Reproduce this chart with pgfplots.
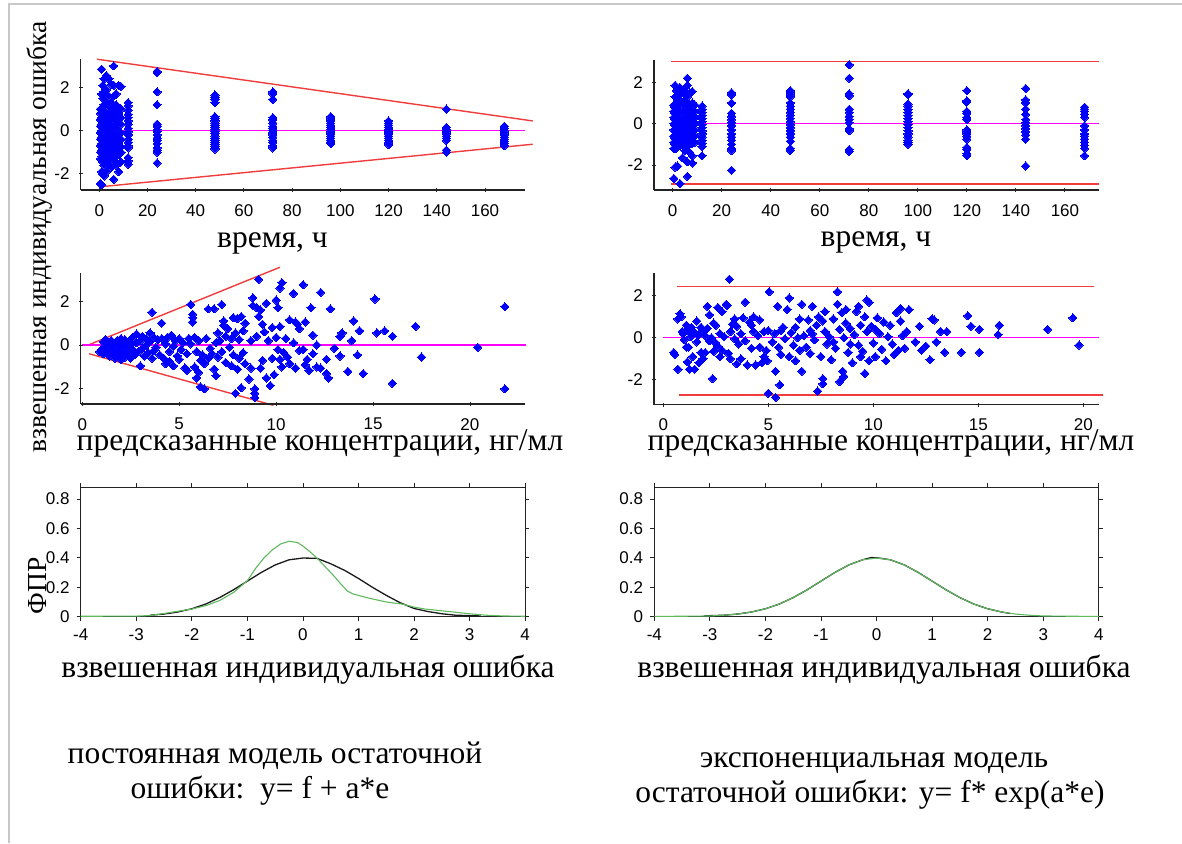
\documentclass[border=0pt]{standalone}
\usepackage{pgfplots}
\pgfplotsset{compat=1.18}
\usepackage{fontspec}
\setmainfont{Liberation Serif}
\newfontfamily\ticksans{Liberation Sans}

\definecolor{ptblue}{RGB}{0,0,255}
\definecolor{limred}{RGB}{240,60,60}
\definecolor{zeromag}{RGB}{255,0,255}
\definecolor{pdfgreen}{RGB}{95,185,95}
\definecolor{pdfblack}{RGB}{25,25,25}
\definecolor{framegray}{RGB}{200,200,200}
\definecolor{axisdark}{RGB}{35,35,35}

\newcommand{\labfont}{\fontsize{31.5}{34}\selectfont}
\newcommand{\rotfont}{\fontsize{27.5}{30}\selectfont}

\pgfplotsset{
  common/.style={
    scale only axis,
    tick align=outside,
    major tick length=4pt,
    tick style={draw=axisdark, line width=0.9pt},
    tick label style={font=\ticksans\fontsize{17}{17}\selectfont, inner sep=1pt},
    xticklabel style={yshift=-7pt},
    yticklabel style={xshift=-6pt},
    /pgf/number format/assume math mode=true,
  },
  resid/.style={
    common,
    axis x line=bottom, axis y line=left,
    axis line style={-, draw=axisdark, line width=1.3pt},
    xticklabel style={yshift=-4pt},
    yticklabel style={xshift=-2pt},
    ytick={-2,0,2},
    clip=false,
  },
  % reference lines live in a bare axis of identical geometry
  guide/.style={scale only axis, hide axis, clip=false},
  geomA/.style={at={(80.7pt,653pt)}, anchor=south west,
    width=444.3pt, height=131pt, xmin=-7.7, xmax=176.6, ymin=-2.75, ymax=3.32},
  geomB/.style={at={(654pt,653pt)}, anchor=south west,
    width=445pt, height=130pt, xmin=-7.6, xmax=173.9, ymin=-3.21, ymax=3.08},
  geomC/.style={at={(80.7pt,439pt)}, anchor=south west,
    width=444.3pt, height=131.3pt, xmin=-0.08, xmax=22.84, ymin=-2.69, ymax=3.30},
  geomD/.style={at={(654pt,438.3pt)}, anchor=south west,
    width=445pt, height=131.4pt, xmin=-0.44, xmax=20.75, ymin=-3.2, ymax=3.08},
  timeax/.style={resid, xtick={0,20,...,160}},
  concax/.style={resid, xtick={0,5,10,15,20}},
  pdfax/.style={
    common,
    xmin=-4, xmax=4, ymin=0, ymax=0.88,
    xtick={-4,-3,-2,-1,0,1,2,3,4},
    ytick={0,0.2,0.4,0.6,0.8},
    tick pos=both,
    axis line style={draw=axisdark, line width=1.3pt},
    width=444.5pt, height=129.4pt,
  },
  pts/.style={only marks, mark=square*, mark size=2.9pt,
    mark options={rotate=45, fill=ptblue, draw=ptblue, line width=0pt}},
  zeroline/.style={draw=zeromag, line width=1.5pt, mark=none},
  limline/.style={draw=limred, line width=1.4pt, mark=none},
}

\begin{document}
\begin{tikzpicture}
\path[use as bounding box] (0,0) rectangle (1182pt,843pt);
\draw[draw=framegray, line width=2.5pt] (9pt,0pt) -- (9pt,839pt) -- (1182pt,839pt);

% ---------- residuals vs time, additive error ----------
\begin{axis}[guide, geomA]
\addplot[limline] coordinates {(-1,3.31) (179.8,0.45)};
\addplot[limline] coordinates {(1.5,-2.59) (179.8,-0.63)};
\addplot[zeroline] coordinates {(0,0) (88,0) (176.8,0)};
\end{axis}
\begin{axis}[timeax, geomA]
\addplot[pts] coordinates {
(0.5,1.0)(0.5,0.8)(0.5,0.5)(0.5,0.2)(0.5,-0.1)(0.5,-0.4)(0.5,-0.7)(0.5,-1.0)(0.5,-1.3)(0.5,-2.45)
(1,2.85)(1,1.7)(1,1.0)(1,0.6)(1,0.3)(1,0.0)(1,-0.3)(1,-0.6)(1,-0.9)(1,-1.2)(1,-1.9)(1,-2.5)
(1.5,2.1)(1.5,1.5)(1.5,0.9)(1.5,0.4)(1.5,0.1)(1.5,-0.2)(1.5,-0.5)(1.5,-0.8)(1.5,-1.1)(1.5,-1.45)(1.5,-2.0)
(2,2.4)(2,1.8)(2,1.2)(2,0.7)(2,0.2)(2,-0.1)(2,-0.4)(2,-0.7)(2,-1.0)(2,-1.6)(2,-2.1)
(3,2.55)(3,1.9)(3,1.3)(3,0.8)(3,0.45)(3,0.15)(3,-0.15)(3,-0.45)(3,-0.75)(3,-1.05)(3,-1.4)(3,-1.9)
(4,2.4)(4,1.6)(4,1.1)(4,0.6)(4,0.25)(4,-0.05)(4,-0.35)(4,-0.65)(4,-0.95)(4,-1.25)(4,-1.55)
(5,2.15)(5,1.3)(5,0.9)(5,0.5)(5,0.1)(5,-0.2)(5,-0.5)(5,-0.8)(5,-1.1)(5,-1.7)
(6,3.0)(6,2.1)(6,1.6)(6,1.0)(6,0.6)(6,0.2)(6,-0.1)(6,-0.4)(6,-0.7)(6,-1.0)(6,-1.4)(6,-2.25)
(7,1.7)(7,1.2)(7,0.7)(7,0.3)(7,-0.05)(7,-0.3)(7,-0.6)(7,-0.9)(7,-1.2)(7,-1.6)
(8,2.1)(8,1.0)(8,0.8)(8,0.4)(8,0.0)(8,-0.3)(8,-0.55)(8,-0.85)(8,-1.1)(8,-1.9)
(9,2.05)(9,1.0)(9,0.6)(9,0.3)(9,-0.1)(9,-0.4)(9,-0.75)(9,-1.0)(9,-1.45)
(12,1.3)(12,1.15)(12,0.95)(12,0.75)(12,0.6)(12,0.45)(12,0.3)(12,0.1)(12,-0.05)(12,-0.2)(12,-0.4)(12,-0.55)(12,-0.7)(12,-0.8)(12,-1.25)(12,-1.4)(12,-1.55)
(24,2.75)(24,2.7)(24,1.8)(24,1.2)(24,0.3)(24,0.2)(24,0.05)(24,-0.05)(24,-0.2)(24,-0.35)(24,-0.45)(24,-0.6)(24,-0.8)(24,-0.9)(24,-1.0)(24,-1.5)
(48,1.65)(48,1.55)(48,1.45)(48,1.3)(48,0.65)(48,0.55)(48,0.45)(48,0.35)(48,0.25)(48,0.15)(48,0.05)(48,-0.05)(48,-0.15)(48,-0.25)(48,-0.35)(48,-0.45)(48,-0.55)(48,-0.65)(48,-0.75)(48,-0.85)
(72,1.8)(72,1.7)(72,1.45)(72,0.6)(72,0.5)(72,0.35)(72,0.2)(72,0.1)(72,0.0)(72,-0.1)(72,-0.2)(72,-0.3)(72,-0.45)(72,-0.55)(72,-0.7)(72,-0.8)
(96,0.65)(96,0.55)(96,0.45)(96,0.35)(96,0.25)(96,0.15)(96,0.05)(96,-0.05)(96,-0.15)(96,-0.25)(96,-0.35)(96,-0.45)(96,-0.55)(96,-0.6)
(120,0.45)(120,0.35)(120,0.25)(120,0.15)(120,0.05)(120,-0.05)(120,-0.15)(120,-0.25)(120,-0.35)(120,-0.45)(120,-0.55)(120,-0.65)
(144,1.0)(144,0.15)(144,0.05)(144,-0.05)(144,-0.15)(144,-0.25)(144,-0.35)(144,-0.45)(144,-0.9)(144,-1.0)
(168,0.2)(168,0.1)(168,0.0)(168,-0.1)(168,-0.2)(168,-0.3)(168,-0.4)(168,-0.5)(168,-0.6)(168,-0.7)
};
\end{axis}

% ---------- residuals vs time, exponential error ----------
\begin{axis}[guide, geomB]
\addplot[zeroline] coordinates {(-0.8,0) (87,0) (174,0)};
\addplot[limline] coordinates {(-0.8,3.0) (87,3.0) (174,3.0)};
\addplot[limline] coordinates {(-0.8,-2.92) (87,-2.92) (174,-2.92)};
\end{axis}
\begin{axis}[timeax, geomB]
\addplot[pts] coordinates {
(0.5,0.9)(0.5,0.6)(0.5,0.3)(0.5,0.0)(0.5,-0.3)(0.5,-0.6)(0.5,-0.9)(0.5,-1.2)(0.5,-2.65)
(1,1.85)(1,1.3)(1,0.8)(1,0.5)(1,0.2)(1,-0.1)(1,-0.4)(1,-0.7)(1,-1.0)(1,-2.1)
(1.5,1.6)(1.5,1.0)(1.5,0.6)(1.5,0.25)(1.5,-0.05)(1.5,-0.35)(1.5,-0.65)(1.5,-0.95)(1.5,-1.2)
(2,1.7)(2,1.2)(2,0.7)(2,0.35)(2,0.05)(2,-0.25)(2,-0.55)(2,-0.85)(2,-2.05)
(3,1.75)(3,1.4)(3,0.9)(3,0.5)(3,0.15)(3,-0.15)(3,-0.45)(3,-0.75)(3,-1.05)(3,-2.9)
(4,1.5)(4,1.0)(4,0.6)(4,0.2)(4,-0.1)(4,-0.4)(4,-0.7)(4,-1.0)(4,-1.65)
(5,1.6)(5,1.1)(5,0.7)(5,0.3)(5,0.0)(5,-0.3)(5,-0.6)(5,-0.9)(5,-1.3)
(6,2.2)(6,1.85)(6,1.3)(6,0.8)(6,0.4)(6,0.1)(6,-0.2)(6,-0.5)(6,-0.8)(6,-1.1)(6,-1.85)(6,-2.55)
(7,1.5)(7,0.9)(7,0.5)(7,0.15)(7,-0.15)(7,-0.45)(7,-0.75)(7,-1.4)
(8,1.55)(8,1.0)(8,0.6)(8,0.25)(8,-0.05)(8,-0.35)(8,-0.65)(8,-0.95)(8,-1.55)(8,-1.9)
(9,0.9)(9,0.6)(9,0.3)(9,0.0)(9,-0.3)(9,-0.6)(9,-0.9)
(12,0.85)(12,0.7)(12,0.55)(12,0.4)(12,0.25)(12,0.1)(12,-0.05)(12,-0.2)(12,-0.35)(12,-0.5)(12,-0.65)(12,-0.8)(12,-0.95)(12,-1.1)(12,-1.55)
(24,1.5)(24,1.4)(24,1.0)(24,0.5)(24,0.35)(24,0.2)(24,0.05)(24,-0.1)(24,-0.3)(24,-0.5)(24,-0.65)(24,-0.8)(24,-1.0)(24,-1.2)(24,-1.3)(24,-2.25)
(48,1.6)(48,1.5)(48,1.4)(48,1.3)(48,1.0)(48,0.85)(48,0.7)(48,0.55)(48,0.4)(48,0.25)(48,0.1)(48,-0.05)(48,-0.2)(48,-0.35)(48,-0.5)(48,-0.65)(48,-0.85)(48,-1.2)(48,-1.3)
(72,2.85)(72,2.2)(72,1.45)(72,1.35)(72,0.7)(72,0.55)(72,0.35)(72,0.2)(72,0.05)(72,-0.25)(72,-0.35)(72,-1.25)(72,-1.35)
(96,1.45)(96,1.4)(96,0.95)(96,0.85)(96,0.7)(96,0.55)(96,0.4)(96,0.25)(96,0.1)(96,-0.05)(96,-0.2)(96,-0.35)(96,-0.5)(96,-0.65)(96,-0.8)(96,-0.9)(96,-1.0)
(120,1.6)(120,1.1)(120,1.05)(120,0.6)(120,0.5)(120,0.3)(120,0.2)(120,-0.3)(120,-0.4)(120,-0.5)(120,-0.6)(120,-0.75)(120,-1.15)(120,-1.25)(120,-1.45)(120,-1.55)
(144,1.7)(144,1.15)(144,1.0)(144,0.7)(144,0.45)(144,0.2)(144,0.05)(144,-0.1)(144,-0.25)(144,-0.4)(144,-0.55)(144,-0.75)(144,-2.05)
(168,0.8)(168,0.7)(168,0.6)(168,0.45)(168,0.3)(168,-0.1)(168,-0.3)(168,-0.5)(168,-0.6)(168,-0.75)(168,-0.9)(168,-1.05)(168,-1.2)(168,-1.55)
};
\end{axis}

% ---------- residuals vs predicted concentration, additive error ----------
\begin{axis}[guide, geomC]
\addplot[limline] coordinates {(0.31,0) (10.2,3.55)};
\addplot[limline] coordinates {(0.36,-0.40) (9.86,-2.75)};
\addplot[zeroline] coordinates {(-0.03,0) (11.4,0) (22.87,0)};
\end{axis}
\begin{axis}[concax, geomC]
\addplot[pts] coordinates {
(0.9,-0.3)(1.0,-0.2)(1.1,0.15)(1.1,-0.4)(1.2,0.25)(1.2,-0.1)(1.3,-0.3)(1.3,0.05)(1.4,-0.5)(1.4,0.1)
(1.5,-0.2)(1.5,0.2)(1.6,-0.35)(1.6,-0.05)(1.7,0.1)(1.7,-0.6)(1.8,-0.25)(1.8,0.2)(1.9,-0.45)(1.9,0.0)
(2.0,-0.15)(2.0,0.3)(2.0,-0.65)(2.1,0.1)(2.1,-0.35)(2.2,-0.55)(2.2,0.25)(2.3,-0.1)(2.3,-0.45)(2.4,0.15)
(2.4,-0.3)(2.5,-0.6)(2.5,0.05)(2.6,-0.2)(2.6,0.35)(2.7,-0.45)(2.8,0.5)(2.8,0.1)(2.9,-0.3)(3.0,0.2)
(3.0,-0.95)(3.1,0.4)(3.1,-0.15)(3.2,-0.5)(3.3,0.3)(3.3,0.0)(3.4,-0.35)(3.5,0.55)(3.5,0.15)(3.6,1.5)
(3.6,-0.6)(3.7,0.35)(3.7,-0.25)(3.8,-0.1)(3.9,0.25)(4.0,-0.45)(4.1,1.0)(4.1,0.3)(4.2,-0.6)(4.3,-0.85)
(4.3,0.05)(4.4,0.35)(4.5,-0.3)(4.5,-0.75)(4.6,0.45)(4.7,-0.05)(4.7,-0.95)(4.8,0.2)(4.9,-0.5)(5.0,-0.65)
(5.0,0.3)(5.1,-0.2)(5.2,0.1)(5.3,-1.05)(5.4,-1.15)(5.4,-0.4)(5.5,0.3)(5.6,1.85)(5.6,0.05)(5.7,1.4)
(5.7,1.25)(5.7,1.05)(5.8,-1.0)(5.8,0.35)(5.9,-1.5)(5.9,-0.3)(6.0,-1.25)(6.0,0.2)(6.1,-1.9)(6.1,-0.7)
(6.2,-0.45)(6.3,-0.85)(6.3,-2.0)(6.4,0.3)(6.5,-0.6)(6.5,1.65)(6.6,-0.15)(6.7,-0.4)(6.8,1.65)(6.8,-1.1)
(6.9,0.1)(6.9,-1.4)(7.0,0.55)(7.0,-0.55)(7.1,0.2)(7.2,1.85)(7.2,-0.3)(7.3,1.1)(7.3,0.9)(7.4,0.4)
(7.4,-0.8)(7.5,0.75)(7.6,-0.1)(7.7,0.3)(7.7,-0.95)(7.8,1.25)(7.8,-0.45)(7.9,0.55)(7.9,-2.2)(8.0,1.2)
(8.0,-1.1)(8.1,0.25)(8.1,-0.6)(8.2,1.3)(8.2,-1.95)(8.3,0.65)(8.3,-0.35)(8.4,1.0)(8.4,-0.85)(8.6,-1.55)
(8.7,-1.05)(8.7,0.2)(8.8,2.15)(8.8,1.8)(8.9,-2.0)(8.9,-2.2)(8.9,-2.4)(9.0,1.7)(9.0,0.4)(9.1,3.0)
(9.1,1.3)(9.2,1.6)(9.2,-1.05)(9.3,0.95)(9.3,-0.7)(9.4,0.6)(9.5,1.9)(9.5,-1.5)(9.6,0.2)(9.7,-1.85)
(9.8,0.8)(9.8,-0.6)(9.9,-1.35)(10.0,2.05)(10.0,0.35)(10.1,1.7)(10.1,-0.2)(10.2,2.6)(10.2,0.85)(10.2,-0.65)
(10.3,2.85)(10.3,-1.0)(10.4,-0.35)(10.5,0.3)(10.6,-0.55)(10.7,1.15)(10.7,-0.85)(10.9,2.35)(10.9,0.1)(11.0,1.05)
(11.0,-1.05)(11.1,0.95)(11.2,0.75)(11.2,-0.25)(11.4,2.75)(11.4,-0.2)(11.5,1.05)(11.5,-0.9)(11.6,-0.65)(11.7,-1.15)
(11.8,1.7)(11.9,0.45)(11.9,-0.4)(12.1,0.0)(12.1,-1.0)(12.3,2.4)(12.3,-1.05)(12.6,-0.65)(12.6,-1.3)(12.7,-1.5)
(12.8,1.65)(13.0,-0.15)(13.3,0.4)(13.3,-0.5)(13.4,0.55)(13.7,-1.2)(13.9,0.2)(14.0,1.1)(14.2,-0.45)(14.3,0.65)
(14.5,-1.3)(15.1,2.1)(15.2,0.55)(15.6,0.65)(16.0,0.4)(16.0,-1.75)(17.2,0.85)(17.5,-0.55)(20.4,-0.1)(21.8,1.75)
(21.8,-2.0)
};
\end{axis}

% ---------- residuals vs predicted concentration, exponential error ----------
\begin{axis}[guide, geomD]
\addplot[zeroline] coordinates {(0.01,0) (10.4,0) (20.74,0)};
\addplot[limline] coordinates {(0.67,2.44) (10.6,2.44) (20.5,2.44)};
\addplot[limline] coordinates {(0.76,-2.73) (10.9,-2.73) (20.95,-2.73)};
\end{axis}
\begin{axis}[concax, geomD]
\addplot[pts] coordinates {
(0.5,-0.7)(0.55,-0.8)(0.7,-1.5)(0.7,0.9)(0.8,1.15)(0.85,1.0)(0.9,0.3)(0.95,0.2)(1.0,0.25)(1.1,0.6)
(1.1,-0.45)(1.15,-1.15)(1.2,0.35)(1.2,-0.45)(1.25,-1.5)(1.3,0.05)(1.35,0.5)(1.4,-0.9)(1.5,0.25)(1.5,-1.5)
(1.6,0.8)(1.6,-0.2)(1.7,0.15)(1.7,-1.2)(1.8,-0.7)(1.9,0.35)(1.9,-1.0)(2.0,-0.7)(2.0,0.1)(2.1,1.5)
(2.1,0.45)(2.2,1.1)(2.2,-0.15)(2.3,0.0)(2.35,-1.95)(2.4,0.7)(2.4,-0.65)(2.5,0.6)(2.5,-0.25)(2.6,1.45)
(2.6,-0.4)(2.7,0.2)(2.8,-0.6)(2.8,1.25)(2.9,0.05)(3.0,1.6)(3.05,1.55)(3.1,-0.75)(3.15,2.8)(3.2,0.3)
(3.2,-1.0)(3.3,0.65)(3.4,-0.05)(3.5,-1.25)(3.5,0.55)(3.6,-0.3)(3.7,0.2)(3.7,-1.0)(3.8,0.95)(3.9,1.7)
(3.9,-0.15)(4.0,-1.3)(4.1,0.75)(4.2,-0.5)(4.3,0.3)(4.3,1.0)(4.4,-1.3)(4.5,0.1)(4.6,-0.45)(4.6,0.85)
(4.7,-1.2)(4.8,0.3)(4.9,-0.6)(4.95,-1.1)(5.0,0.35)(5.0,-2.65)(5.05,2.2)(5.2,-0.2)(5.35,-2.85)(5.35,-1.6)
(5.45,1.5)(5.5,-0.45)(5.55,-2.25)(5.6,0.35)(5.7,0.5)(5.8,-0.05)(5.9,1.35)(6.0,1.9)(6.0,-0.9)(6.1,0.25)
(6.2,-0.35)(6.3,-1.1)(6.4,0.0)(6.5,-0.6)(6.6,1.6)(6.6,-1.6)(6.7,0.1)(6.8,-0.45)(6.9,0.85)(7.0,-0.75)
(7.1,1.5)(7.1,0.2)(7.2,-0.1)(7.3,0.6)(7.35,-2.55)(7.4,1.0)(7.5,-0.9)(7.6,-1.95)(7.6,-2.2)(7.7,1.25)
(7.7,0.3)(7.8,-0.3)(7.9,0.05)(8.0,-1.05)(8.1,0.9)(8.2,-0.5)(8.3,2.2)(8.3,1.6)(8.4,-2.1)(8.4,0.4)
(8.5,1.2)(8.55,-1.6)(8.6,-1.85)(8.6,0.0)(8.7,1.35)(8.8,-0.7)(8.9,0.45)(9.0,-1.2)(9.1,0.15)(9.2,1.25)
(9.3,1.5)(9.3,-0.35)(9.4,0.6)(9.5,-0.65)(9.6,1.0)(9.6,-1.7)(9.7,1.8)(9.7,0.3)(9.8,1.7)(9.8,-1.1)
(9.9,0.55)(10.0,-0.25)(10.1,-0.9)(10.2,0.95)(10.3,0.2)(10.4,-0.55)(10.5,0.75)(10.6,-1.1)(10.7,0.05)(10.8,0.6)
(11.0,-0.8)(11.1,1.2)(11.2,-0.6)(11.3,1.4)(11.4,0.1)(11.5,-0.5)(11.6,0.3)(11.7,1.35)(12.2,0.55)(12.3,-0.6)
(12.5,-0.4)(12.7,-1.05)(12.8,0.9)(12.9,0.85)(13.0,-0.2)(13.2,0.3)(13.4,-0.7)(13.5,0.3)(14.2,-0.7)(14.5,1.05)
(14.65,0.55)(15.05,0.4)(15.05,-0.7)(15.95,0.15)(16.0,0.6)(18.3,0.4)(19.5,0.95)(19.8,-0.35)
(1.0,-0.1)(1.8,0.5)(2.7,-0.9)(3.4,0.9)(4.2,0.6)(4.8,-0.9)(5.6,-0.8)(6.3,0.5)(7.0,0.35)(7.6,0.8)
(8.1,-0.2)(8.9,-0.3)(9.4,-0.9)(10.1,0.4)(10.9,-0.3)(11.3,0.8)(12.0,-0.2)(6.5,0.9)(5.3,0.2)(8.7,0.7)
};
\end{axis}

% ---------- density of residuals, additive error ----------
\begin{axis}[pdfax, at={(80.7pt,226.3pt)}, anchor=south west]
\addplot[draw=pdfblack, line width=1.3pt, mark=none] coordinates {
(-2.75,0.01)(-2.5,0.018)(-2.25,0.032)(-2,0.054)(-1.75,0.086)(-1.5,0.13)(-1.25,0.183)(-1,0.242)
(-0.75,0.301)(-0.5,0.352)(-0.25,0.387)(0,0.399)(0.25,0.397)(0.5,0.36)(0.75,0.315)(1,0.26)
(1.25,0.2)(1.5,0.145)(1.75,0.095)(2,0.056)(2.25,0.035)(2.5,0.02)(2.75,0.01)(3.2,0.005)};
\addplot[draw=pdfgreen, line width=1.1pt, mark=none] coordinates {
(-4,0.003)(-3,0.004)(-2.75,0.008)(-2.5,0.022)(-2.25,0.037)(-2,0.052)(-1.75,0.075)(-1.5,0.11)
(-1.25,0.165)(-1.0,0.245)(-0.85,0.33)(-0.7,0.40)(-0.55,0.455)(-0.4,0.495)(-0.25,0.513)(-0.1,0.505)
(0.0,0.48)(0.1,0.45)(0.25,0.40)(0.4,0.34)(0.55,0.28)(0.7,0.215)(0.8,0.175)(0.9,0.155)(1.0,0.145)
(1.2,0.125)(1.5,0.10)(1.8,0.085)(2.0,0.065)(2.2,0.052)(2.5,0.04)(2.8,0.028)(3.0,0.02)
(3.3,0.01)(3.6,0.005)(4,0.003)};
\end{axis}

% ---------- density of residuals, exponential error ----------
\begin{axis}[pdfax, at={(654.3pt,226.3pt)}, anchor=south west]
\addplot[draw=pdfblack, line width=1.3pt, mark=none] coordinates {
(-3.1,0.006)(-2.75,0.01)(-2.5,0.018)(-2.25,0.032)(-2,0.054)(-1.75,0.086)(-1.5,0.13)(-1.25,0.183)
(-1,0.242)(-0.75,0.301)(-0.5,0.352)(-0.25,0.387)(-0.1,0.402)(0,0.401)(0.25,0.387)(0.5,0.352)
(0.75,0.301)(1,0.242)(1.25,0.183)(1.5,0.13)(1.75,0.086)(2,0.054)(2.25,0.032)(2.4,0.022)};
\addplot[draw=pdfgreen, line width=1.1pt, mark=none] coordinates {
(-4,0.002)(-3.5,0.003)(-3,0.005)(-2.75,0.01)(-2.5,0.018)(-2.25,0.032)(-2,0.054)(-1.75,0.086)
(-1.5,0.13)(-1.25,0.183)(-1,0.242)(-0.75,0.301)(-0.5,0.352)(-0.25,0.387)(0,0.399)(0.25,0.387)
(0.5,0.352)(0.75,0.301)(1,0.242)(1.25,0.183)(1.5,0.13)(1.75,0.086)(2,0.054)(2.25,0.032)
(2.5,0.018)(2.75,0.01)(3,0.005)(3.5,0.003)(4,0.002)};
\end{axis}

% ---------- axis titles and captions ----------
\begin{scope}[every node/.style={inner sep=0pt}]
\node[anchor=base, font=\labfont] at (272.5pt,595.3pt) {время, ч};
\node[anchor=base, font=\labfont] at (876pt,596.3pt) {время, ч};
\node[anchor=base, font=\labfont] at (320pt,392pt) {предсказанные концентрации, нг/мл};
\node[anchor=base, font=\labfont] at (891pt,392pt) {предсказанные концентрации, нг/мл};
\node[anchor=base, font=\labfont] at (308pt,165pt) {взвешенная индивидуальная ошибка};
\node[anchor=base, font=\labfont] at (884pt,165pt) {взвешенная индивидуальная ошибка};
\node[rotate=90, font=\rotfont] at (40pt,606pt) {взвешенная индивидуальная ошибка};
\node[rotate=90, font=\rotfont] at (37pt,257pt) {ФПР};
\node[anchor=base, font=\labfont] at (275pt,80pt) {постоянная модель остаточной};
\node[anchor=base, font=\labfont] at (260pt,45pt) {ошибки:\ \ y= f + a*e};
\node[anchor=base, font=\labfont] at (874pt,76pt) {экспоненциальная модель};
\node[anchor=base, font=\labfont] at (870pt,41pt) {остаточной ошибки: y= f* exp(a*e)};
\end{scope}
\end{tikzpicture}
\end{document}
